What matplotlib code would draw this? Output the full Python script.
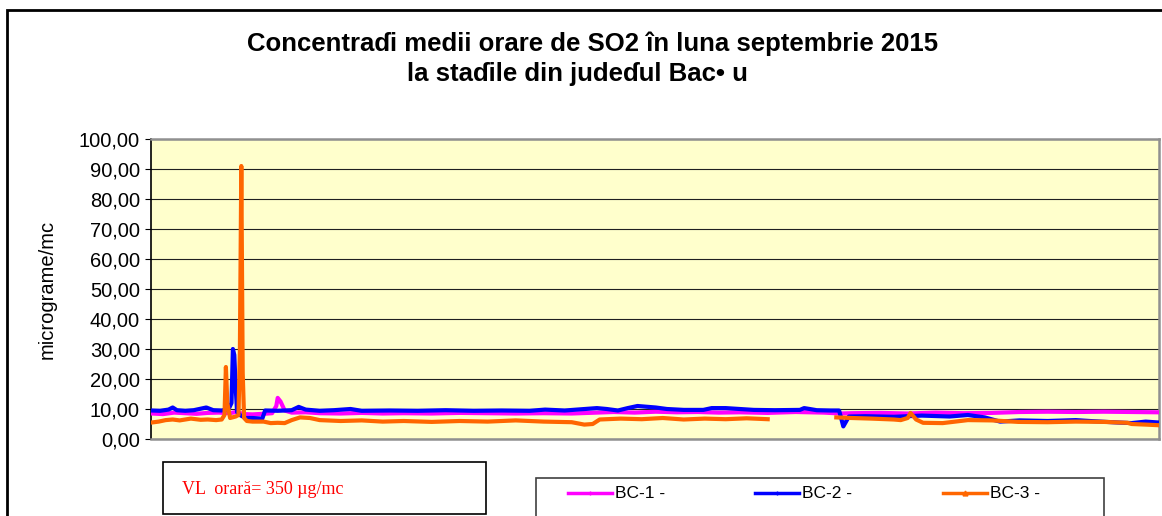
import numpy as np
import matplotlib
matplotlib.use("Agg")
import matplotlib.pyplot as plt
from matplotlib.lines import Line2D
from matplotlib.patches import Rectangle

# ---------------- data (hour of month, concentration) ----------------
bc1_hours = [0, 8, 16, 24, 32, 40, 48, 56, 60, 66, 72, 80, 86, 89, 90, 92, 95, 100, 110, 120, 135,
             150, 165, 180, 200, 220, 240, 260, 280, 300, 318, 330, 345, 360, 375, 390, 405, 420,
             440, 460, 480, 492, 500, 520, 540, 560, 580, 600, 620, 640, 660, 680, 700, 719]
bc1_vals = [8.5, 8.3, 8.8, 8.6, 8.4, 8.7, 8.8, 8.6, 9.0, 8.3, 8.2, 8.4, 8.6, 11.0, 13.7, 12.5, 9.5,
            8.8, 8.9, 8.6, 8.5, 8.7, 8.5, 8.6, 8.5, 8.7, 8.6, 8.5, 8.6, 8.5, 8.8, 9.0, 8.8, 9.1,
            8.9, 9.0, 8.8, 8.9, 8.7, 9.0, 8.8, 8.5, 8.6, 8.7, 8.5, 8.8, 8.6, 8.7, 9.0, 9.1, 9.0,
            9.1, 9.0, 8.9]

bc2_hours = [0, 6, 12, 15, 18, 24, 30, 36, 39, 44, 50, 55, 57, 58, 59, 60, 61, 63, 67, 72, 79, 81,
             90, 100, 105, 110, 120, 130, 142, 150, 170, 190, 210, 230, 250, 270, 281, 295, 318,
             325, 333, 340, 347, 360, 368, 380, 394, 400, 410, 420, 430, 445, 463, 466, 470, 475,
             485, 491, 493, 494, 498, 510, 530, 550, 570, 583, 595, 606, 620, 640, 660, 670, 690,
             700, 710, 719]
bc2_vals = [9.5, 9.4, 9.8, 10.5, 9.6, 9.4, 9.6, 10.2, 10.5, 9.6, 9.5, 10.0, 12.0, 30.0, 28.0, 17.0,
            9.0, 8.0, 7.0, 7.0, 6.8, 9.5, 9.4, 9.6, 10.7, 9.8, 9.4, 9.6, 10.0, 9.4, 9.5, 9.4, 9.6,
            9.4, 9.5, 9.4, 9.8, 9.5, 10.3, 10.0, 9.5, 10.3, 11.0, 10.5, 10.0, 9.7, 9.7, 10.3,
            10.3, 10.0, 9.7, 9.6, 9.7, 10.3, 10.0, 9.6, 9.5, 9.5, 6.0, 4.2, 7.5, 7.6, 7.4, 7.8,
            7.5, 8.0, 7.2, 5.8, 6.2, 6.0, 6.3, 6.0, 5.5, 5.3, 5.8, 5.5]

bc3_hours = [0, 5, 10, 15, 20, 28, 35, 40, 46, 50, 52, 53, 54, 56, 60, 62, 63, 64, 65, 66, 68, 72,
             80, 85, 90, 95, 100, 106, 113, 120, 135, 150, 165, 180, 200, 220, 240, 260, 280, 300,
             309, 315, 320, 335, 350, 365, 380, 395, 410, 425, 440, 441,
             489, 500, 514, 530, 535, 540, 542, 546, 551, 565, 583, 600, 619, 640, 660, 680, 697,
             700, 710, 719]
bc3_vals = [5.5, 5.8, 6.3, 6.5, 6.2, 6.8, 6.4, 6.5, 6.3, 6.5, 8.0, 24.0, 12.0, 7.0, 7.5, 8.0, 30.0,
            91.0, 22.0, 7.0, 6.0, 5.8, 5.8, 5.3, 5.4, 5.3, 6.3, 7.2, 7.0, 6.3, 6.0, 6.2, 5.8, 6.0,
            5.7, 6.0, 5.8, 6.2, 5.8, 5.6, 4.8, 5.0, 6.5, 6.8, 6.6, 7.0, 6.5, 6.8, 6.6, 6.9, 6.6,
            np.nan,
            7.2, 7.0, 6.8, 6.5, 6.3, 7.0, 8.7, 6.5, 5.4, 5.3, 6.3, 6.2, 5.7, 5.6, 5.8, 5.7, 5.4,
            5.0, 4.8, 4.6]

series_names = ["BC-1 -", "BC-2 -", "BC-3 -"]
series_colors = ["#FF00FF", "#0000FF", "#FF6600"]
y_ticks = [0, 10, 20, 30, 40, 50, 60, 70, 80, 90, 100]
y_tick_labels = ["0,00", "10,00", "20,00", "30,00", "40,00", "50,00", "60,00", "70,00",
                 "80,00", "90,00", "100,00"]
title_line1 = "Concentraɗi medii orare de SO2 în luna septembrie 2015"
title_line2 = "la staɗile din judeɗul Bac• u"
y_label = "micrograme/mc"
vl_text = "VL  orară= 350 µg/mc"
n_hours = 720

# ---------------- figure ----------------
W, H = 1162, 516
fig = plt.figure(figsize=(W / 100, H / 100), dpi=100)
plt.rcParams['font.family'] = ['Liberation Sans', 'DejaVu Sans']

def fx(px):
    return px / W

def fy(py):
    return 1 - py / H

ax = fig.add_axes([fx(151), fy(439), fx(1159) - fx(151), fy(139) - fy(439)])
ax.set_facecolor("#FFFFCC")

for hrs, vals, col in zip([bc1_hours, bc2_hours, bc3_hours], [bc1_vals, bc2_vals, bc3_vals],
                          series_colors):
    ax.plot(hrs, vals, color=col, lw=3.0, solid_joinstyle='round', zorder=3)

ax.set_xlim(-0.5, n_hours - 0.5)
ax.set_ylim(0, 100)
ax.set_yticks(y_ticks)
ax.set_yticklabels(y_tick_labels, fontsize=14.5)
ax.set_xticks([])
ax.tick_params(axis='y', direction='out', length=4, width=0.8, color='black', pad=4)
ax.yaxis.grid(True, color='#202020', lw=0.8)
ax.set_axisbelow(True)
ax.set_ylabel(y_label, fontsize=14.5, labelpad=16)

ax.spines['left'].set_color('black')
ax.spines['left'].set_linewidth(1.2)
for s in ['top', 'right', 'bottom']:
    ax.spines[s].set_color('#909090')
    ax.spines[s].set_linewidth(1.8)

# titles
fig.text(fx(593), fy(44), title_line1, ha='center', va='center', fontsize=18.5,
         fontweight='bold')
fig.text(fx(577), fy(74), title_line2, ha='center', va='center', fontsize=18.5,
         fontweight='bold')

# outer frame (top/left visible)
fig.patches.append(Rectangle((fx(7), fy(530)), 1.2, fy(10) - fy(530), transform=fig.transFigure,
                             fill=False, edgecolor='black', lw=2, zorder=10))

# VL box
fig.patches.append(Rectangle((fx(163), fy(514)), fx(486) - fx(163), fy(462) - fy(514),
                             transform=fig.transFigure, fill=False, edgecolor='black', lw=1.2))
fig.text(fx(182), fy(490), vl_text, ha='left', va='center', color='#FF0000', fontsize=13,
         family=['Liberation Serif', 'DejaVu Serif'])

# legend
handles = [
    Line2D([], [], color=series_colors[0], lw=2.5, marker='+', markersize=3),
    Line2D([], [], color=series_colors[1], lw=2.5, marker='|', markersize=3),
    Line2D([], [], color=series_colors[2], lw=2.5, marker='^', markersize=3.5),
]
fig.patches.append(Rectangle((fx(536), fy(530)), fx(1104) - fx(536), fy(478) - fy(530),
                             transform=fig.transFigure, fill=False, edgecolor='#404040', lw=1.2))
leg_x = [568, 755, 943]
for hnd, name, lx in zip(handles, series_names, leg_x):
    fig.lines.append(Line2D([fx(lx), fx(lx + 44)], [fy(493), fy(493)], transform=fig.transFigure,
                            color=hnd.get_color(), lw=2.5))
    fig.lines.append(Line2D([fx(lx + 22)], [fy(493)], transform=fig.transFigure,
                            color=hnd.get_color(), marker=hnd.get_marker(),
                            markersize=hnd.get_markersize(), lw=0))
    fig.text(fx(lx + 47), fy(493), name, ha='left', va='center', fontsize=12.5)

fig.savefig("out.png", dpi=100)
